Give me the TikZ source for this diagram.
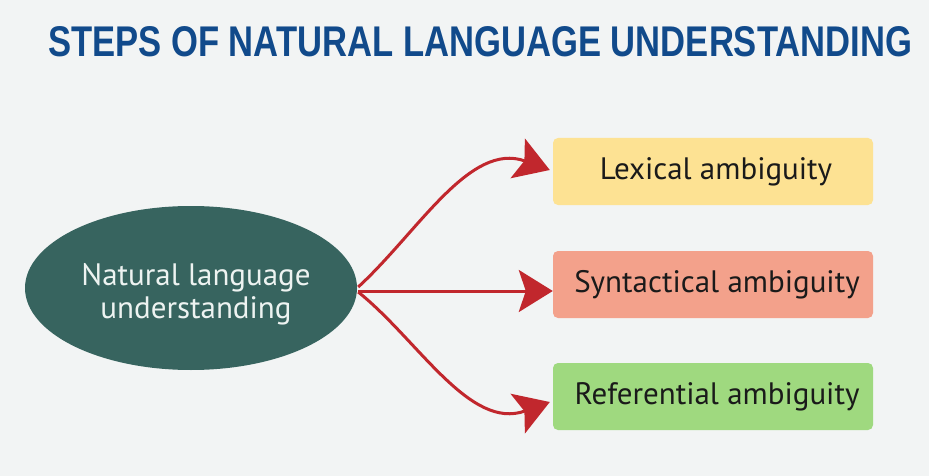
\documentclass[tikz,border=0pt]{standalone}
\usepackage{fontspec}
\setmainfont{PT Sans}
\newfontfamily\titlefont{Liberation Sans}
\usetikzlibrary{arrows.meta,shapes.geometric,calc}
\definecolor{bgc}{HTML}{F2F4F4}
\definecolor{titleblue}{HTML}{114A8B}
\definecolor{ellc}{HTML}{37645F}
\definecolor{elltext}{HTML}{EDF3F1}
\definecolor{lexc}{HTML}{FDE293}
\definecolor{sync}{HTML}{F3A18B}
\definecolor{refc}{HTML}{9FD97F}
\definecolor{arrowred}{HTML}{C1272D}
\definecolor{boxtext}{HTML}{1A1A1A}
\tikzset{
  labelfont/.style={font=\fontsize{31}{33}\selectfont},
  ambbox/.style={rectangle, rounded corners=5pt, minimum width=320pt, minimum height=67pt,
    inner sep=0pt, labelfont, text=boxtext},
  conn/.style={draw=arrowred, line width=3pt, -{Stealth[length=34pt 0,width=42pt 0,inset=7pt 0]}}
}
\begin{document}
\begin{tikzpicture}[x=1pt,y=-1pt]
\fill[bgc] (0,0) rectangle (929,476);
\useasboundingbox (0,0) rectangle (929,476);
\node[anchor=base west, inner sep=0pt, text=titleblue] (title) at (48,57)
  {\resizebox{864pt}{30pt}{\titlefont\bfseries STEPS OF NATURAL LANGUAGE UNDERSTANDING}};
\node[ellipse, fill=ellc, minimum width=332pt, minimum height=164pt, inner sep=0pt] (nlu) at (191,288) {};
\node[align=center, text=elltext, labelfont, inner sep=0pt] (nlutxt) at (196,294) {Natural language\\understanding};
\node[ambbox, fill=lexc] (lex) at (713,171.5) {\hspace*{6pt}Lexical ambiguity};
\node[ambbox, fill=sync] (syn) at (713,284.5) {\hspace*{8pt}Syntactical ambiguity};
\node[ambbox, fill=refc] (ref) at (713,396.5) {\hspace*{8pt}Referential ambiguity};
\coordinate (o1) at ($(nlu.east)+(1,-1)$);
\coordinate (o2) at ($(nlu.east)+(1,3)$);
\coordinate (o3) at ($(nlu.east)+(1,4)$);
\coordinate (t1) at ($(lex.west)+(-3,-1.5)$);
\coordinate (t2) at ($(syn.west)+(0,6.5)$);
\coordinate (t3) at ($(ref.west)+(-3,5.5)$);
\draw[conn] (o1) .. controls +(60,-55) and +(-80,-29) .. (t1);
\draw[conn] (o2) -- (t2);
\draw[conn] (o3) .. controls +(60,48) and +(-80,29) .. (t3);
\end{tikzpicture}
\end{document}
